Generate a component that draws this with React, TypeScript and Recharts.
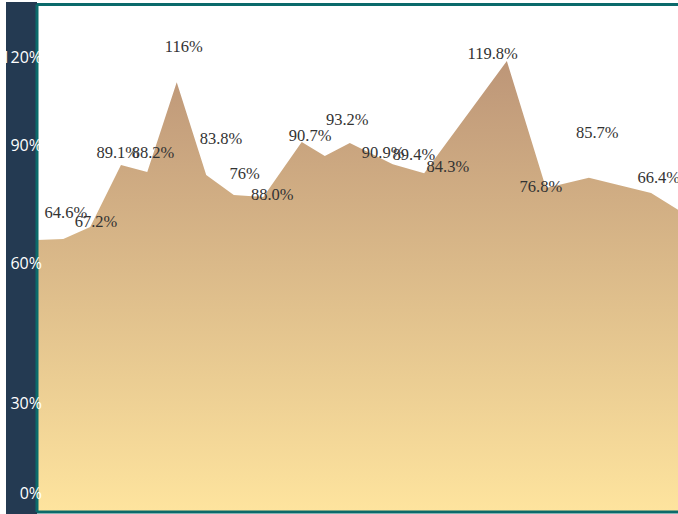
import { Area, ComposedChart, Scatter, XAxis, YAxis } from "recharts";

// positions along the period (0-100) and the filled rate values
const periods = [0, 4.1, 8.3, 13.1, 17.2, 21.8, 26.4, 30.7, 35.3, 41.3, 44.9, 48.8, 55.5, 60.4, 73.3, 79.4, 86.1, 95.8, 100];
const rates = [69.7, 69.9, 73.0, 88.9, 87.1, 110.1, 86.3, 81.2, 80.7, 94.8, 91.2, 94.5, 89.1, 86.8, 115.5, 83.0, 85.6, 81.7, 77.4];

// value labels floating above the area
const labelTexts = ["64.6%", "67.2%", "89.1%", "88.2%", "116%", "83.8%", "76%", "88.0%", "90.7%", "93.2%", "90.9%", "89.4%", "84.3%", "119.8%", "76.8%", "85.7%", "66.4%"];
const labelX = [4.5, 9.2, 12.6, 18.1, 22.9, 28.7, 32.4, 36.7, 42.6, 48.4, 54.0, 58.8, 64.1, 71.1, 78.6, 87.4, 97.0];
const labelY = [76.6, 74.5, 92.2, 92.2, 119.2, 95.8, 86.8, 81.4, 96.4, 100.5, 92.0, 91.5, 88.4, 117.4, 83.5, 97.1, 85.6];

const yTickValues = [4.9, 27.9, 63.8, 94.0, 116.5];
const yTickLabels = ["0%", "30%", "60%", "90%", "120%"];

const areaData = periods.map((x, i) => ({ x, rate: rates[i] }));
const labelData = labelTexts.map((text, i) => ({ x: labelX[i], y: labelY[i], text }));

const TEAL = "#0b6a6b";

const YTick = (props: any) => {
  const i = yTickValues.indexOf(props.payload.value);
  return (
    <text
      x={props.x + 5}
      y={props.y}
      textAnchor="end"
      dominantBaseline="central"
      fill="#ffffff"
      fontSize={16}
      fontFamily="'Open Sans', sans-serif"
    >
      {yTickLabels[i]}
    </text>
  );
};

const FloatingLabel = (props: any) => (
  <text
    x={props.cx}
    y={props.cy}
    textAnchor="middle"
    dominantBaseline="central"
    fill="#333333"
    fontSize={16.5}
    fontFamily="'Liberation Serif', serif"
  >
    {props.payload.text}
  </text>
);

export default function App() {
  return (
    <div style={{ position: "absolute", left: 0, top: 0, width: 678, height: 514 }}>
      <div
        style={{ position: "absolute", left: 6, top: 2, width: 31, height: 512, background: "#243a52" }}
      />
      <ComposedChart
        width={678}
        height={514}
        data={areaData}
        margin={{ top: 3.5, right: 0, bottom: 1, left: 0 }}
        style={{ position: "absolute", left: 0, top: 0 }}
      >
        <defs>
          <linearGradient id="rateFill" x1="0" y1="0" x2="0" y2="1">
            <stop offset="0%" stopColor="#bd9678" />
            <stop offset="100%" stopColor="#fee49e" />
          </linearGradient>
        </defs>
        <XAxis
          dataKey="x"
          type="number"
          domain={[0, 100]}
          allowDataOverflow
          height={1}
          tick={false}
          tickLine={false}
          axisLine={{ stroke: TEAL, strokeWidth: 3 }}
        />
        <XAxis
          xAxisId="top"
          orientation="top"
          dataKey="x"
          type="number"
          domain={[0, 100]}
          height={1}
          tick={false}
          tickLine={false}
          axisLine={{ stroke: TEAL, strokeWidth: 3 }}
        />
        <YAxis
          type="number"
          domain={[0, 130]}
          allowDataOverflow
          width={37}
          ticks={yTickValues}
          interval={0}
          tickSize={0}
          tickMargin={0}
          tickLine={false}
          tick={<YTick />}
          axisLine={{ stroke: TEAL, strokeWidth: 3 }}
        />
        <Area
          type="linear"
          dataKey="rate"
          stroke="none"
          fill="url(#rateFill)"
          fillOpacity={1}
          isAnimationActive={false}
        />
        <Scatter
          data={labelData}
          dataKey="y"
          shape={<FloatingLabel />}
          isAnimationActive={false}
        />
      </ComposedChart>
    </div>
  );
}
